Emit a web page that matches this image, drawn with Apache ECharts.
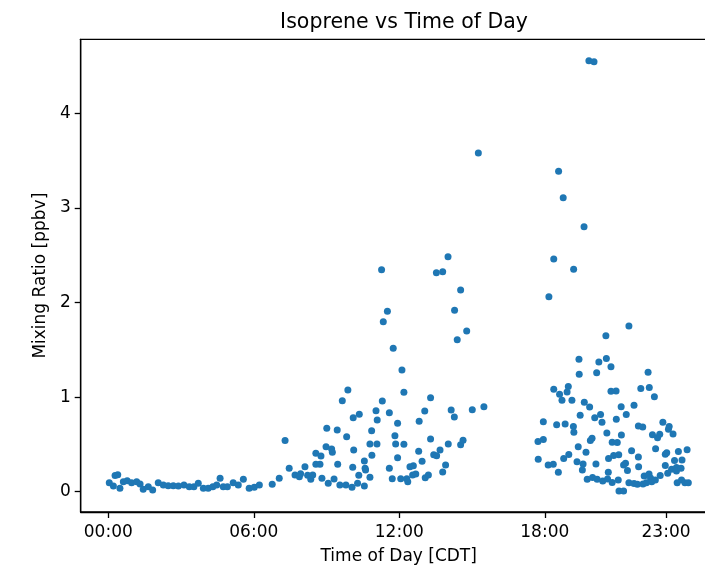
<!DOCTYPE html>
<html>
<head>
<meta charset="utf-8">
<script src="https://cdn.jsdelivr.net/npm/echarts@6/dist/echarts.min.js"></script>
<style>html,body{margin:0;padding:0;background:#fff;}#chart{width:705px;height:566px;}</style>
</head>
<body>
<div id="chart"></div>
<script>
// Time of day in hours (CDT)
const timeHours = [
  // night / early morning
  0.04,0.28,0.39,0.21,0.48,0.62,0.78,0.96,1.17,1.31,1.44,1.65,1.83,2.06,2.27,2.47,2.68,2.89,3.12,3.34,
  3.53,3.71,3.92,4.12,4.31,4.47,4.61,4.74,4.91,5.15,5.36,5.57,5.81,6.02,6.23,6.76,7.05,7.29,7.46,7.70,
  // daytime
  7.88,7.93,8.11,8.22,8.35,8.43,8.56,8.73,8.56,8.77,8.81,8.98,9.01,9.07,9.21,9.24,9.31,9.44,9.46,9.55,
  9.65,9.80,9.83,9.88,10.05,10.08,10.10,10.12,10.28,10.33,10.35,10.56,10.59,10.61,10.56,10.79,10.79,10.86,10.87,11.04,
  11.08,11.09,11.30,11.59,11.59,11.71,11.82,11.85,11.93,11.93,11.51,11.34,11.75,12.11,12.19,12.19,12.06,12.31,12.35,12.44,
  12.58,12.55,12.68,12.80,12.82,12.94,13.05,13.29,13.29,13.07,13.20,13.42,13.54,13.68,13.91,13.79,14.02,14.14,14.27,14.53,
  14.63,14.28,14.39,14.78,15.01,15.49,15.26,11.27,13.53,13.79,14.01,14.53,
  // evening
  19.82,20.03,18.57,18.76,19.62,18.37,19.19,18.17,21.47,20.52,19.41,20.54,20.23,20.73,19.42,20.14,22.26,20.73,20.94,18.37,
  18.97,18.61,18.92,18.71,19.12,21.96,22.31,22.52,19.63,19.85,19.46,20.06,20.30,20.36,20.95,21.15,21.36,21.68,17.94,18.49,
  18.84,19.18,19.20,20.56,21.16,17.72,17.94,19.88,19.95,20.78,20.99,21.86,22.04,22.87,23.13,23.10,23.29,22.44,22.65,22.74,
  19.38,19.70,21.58,22.57,22.97,23.03,23.51,23.87,17.73,18.14,18.35,18.56,18.78,18.99,19.33,19.58,19.55,20.11,20.63,20.84,
  21.05,21.25,21.33,21.41,21.86,21.87,22.97,23.35,23.66,23.23,23.43,23.43,23.07,22.76,23.62,22.10,22.30,22.36,20.62,19.75,
  19.97,20.16,20.39,20.59,20.78,21.03,21.06,21.25,21.47,21.68,21.82,22.05,22.19,22.41,22.56,23.46,23.64,23.78,23.92
];
// Isoprene mixing ratio (ppbv)
const isoprene = [
  0.095,0.17,0.18,0.06,0.036,0.106,0.116,0.095,0.106,0.081,0.025,0.053,0.018,0.095,0.071,0.063,0.063,0.06,0.071,0.053,
  0.053,0.089,0.036,0.036,0.053,0.071,0.142,0.053,0.053,0.095,0.071,0.131,0.036,0.047,0.071,0.078,0.142,0.54,0.247,0.177,
  0.159,0.19,0.264,0.173,0.131,0.177,0.29,0.29,0.406,0.377,0.142,0.476,0.67,0.089,0.451,0.416,0.134,0.652,0.29,0.071,
  0.962,0.071,0.581,1.075,0.047,0.258,0.782,0.441,0.089,0.173,0.818,0.325,0.247,0.229,0.06,0.504,0.152,0.645,0.385,0.856,
  0.504,0.758,0.959,0.835,0.247,0.137,0.592,0.504,0.723,0.359,1.907,1.797,1.516,1.286,1.051,0.501,0.137,0.137,0.106,0.264,
  0.275,0.177,0.187,0.427,0.744,0.321,0.853,0.994,0.557,0.148,0.177,0.391,0.381,0.441,0.282,0.208,0.504,0.864,0.79,0.497,
  0.543,1.918,1.607,1.699,0.867,0.899,3.58,2.347,2.315,2.326,2.484,2.132,
  4.556,4.545,3.387,3.108,2.801,2.46,2.351,2.061,1.752,1.649,1.40,1.408,1.371,1.321,1.241,1.258,1.262,1.061,1.064,1.082,
  1.112,1.03,1.054,0.966,0.966,1.091,1.101,1.004,0.946,0.895,0.809,0.782,0.816,0.734,0.765,0.899,0.816,0.913,0.74,0.707,
  0.716,0.689,0.628,0.621,0.599,0.531,0.552,0.541,0.564,0.523,0.52,0.694,0.684,0.735,0.689,0.66,0.61,0.603,0.571,0.607,
  0.476,0.416,0.433,0.455,0.395,0.412,0.425,0.444,0.342,0.282,0.29,0.205,0.351,0.393,0.317,0.293,0.229,0.293,0.351,0.383,
  0.391,0.282,0.30,0.224,0.367,0.264,0.277,0.33,0.335,0.237,0.256,0.219,0.195,0.171,0.247,0.166,0.187,0.145,0.205,0.131,
  0.15,0.131,0.113,0.134,0.097,0.124,0.007,0.007,0.095,0.087,0.078,0.081,0.095,0.106,0.124,0.095,0.124,0.095,0.095
];
const xTickValues = [0, 6, 12, 18, 23];
const xTickLabels = ['00:00', '06:00', '12:00', '18:00', '23:00'];
const yTickValues = [0, 1, 2, 3, 4];

const points = timeHours.map((h, i) => [h, isoprene[i]]);
const FONT = 'DejaVu Sans';
const chart = echarts.init(document.getElementById('chart'), null, {renderer: 'canvas'});
chart.setOption({
  backgroundColor: '#ffffff',
  animation: false,
  title: {
    text: 'Isoprene vs Time of Day',
    left: 399, textAlign: 'center', top: 7,
    textStyle: {fontFamily: FONT, fontSize: 20.5, fontWeight: 'normal', color: '#000'}
  },
  grid: {
    left: 80.7, top: 39.3, width: 636, height: 472.7,
    outerBoundsMode: 'none', containLabel: false,
    show: true, borderColor: '#000', borderWidth: 1.3, backgroundColor: 'transparent'
  },
  xAxis: {
    type: 'value', min: -1.138, max: 25.09,
    name: 'Time of Day [CDT]', nameLocation: 'middle', nameGap: 36,
    nameTextStyle: {fontFamily: FONT, fontSize: 17, color: '#000'},
    axisLine: {show: true, onZero: false, lineStyle: {color: '#000', width: 1.3}},
    axisTick: {show: true, length: 6, lineStyle: {color: '#000', width: 1.3}, customValues: xTickValues},
    axisLabel: {
      fontFamily: FONT, fontSize: 17, color: '#000', margin: 12,
      customValues: xTickValues,
      formatter: v => xTickLabels[xTickValues.indexOf(Math.round(v))] || ''
    },
    splitLine: {show: false}
  },
  yAxis: {
    type: 'value', min: -0.2146, max: 4.782,
    name: 'Mixing Ratio [ppbv]', nameLocation: 'middle', nameGap: 32, nameRotate: 90,
    nameTextStyle: {fontFamily: FONT, fontSize: 17, color: '#000'},
    axisLine: {show: true, onZero: false, lineStyle: {color: '#000', width: 1.3}},
    axisTick: {show: true, length: 6, lineStyle: {color: '#000', width: 1.3}, customValues: yTickValues},
    axisLabel: {fontFamily: FONT, fontSize: 17, color: '#000', margin: 10, customValues: yTickValues},
    splitLine: {show: false}
  },
  series: [{
    type: 'scatter',
    data: points,
    symbol: 'circle',
    symbolSize: 7,
    itemStyle: {color: '#1f77b4', opacity: 1},
    clip: true
  }]
});
</script>
</body>
</html>
